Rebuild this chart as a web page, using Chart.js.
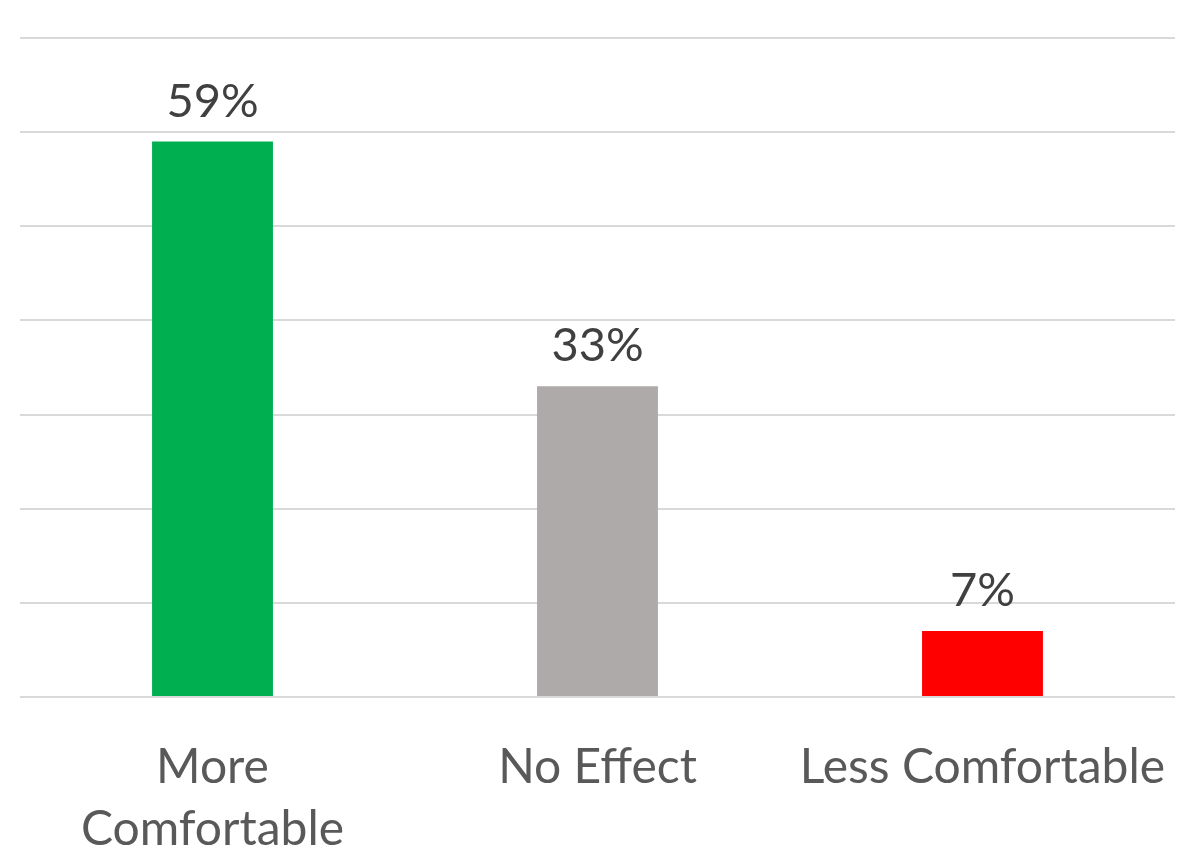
<!DOCTYPE html>
<html>
<head>
<meta charset="utf-8">
<script src="https://cdn.jsdelivr.net/npm/chart.js@4/dist/chart.umd.min.js"></script>
<style>
  body { margin: 0; background: #fff; }
  #wrap { width: 1191px; height: 851px; position: relative; }
</style>
</head>
<body>
<div id="wrap"><canvas id="chart"></canvas></div>
<script>
// --- data ---
const categories = [['More', 'Comfortable'], 'No Effect', 'Less Comfortable'];
const values = [59, 33, 7];
const barColors = ['#00b050', '#aeaaaa', '#ff0000'];
const yMax = 70;
const yStep = 10;

// value labels above bars
const barLabels = {
    id: 'barLabels',
    afterDatasetsDraw(chart) {
        const ctx = chart.ctx;
        const meta = chart.getDatasetMeta(0);
        ctx.save();
        ctx.font = '47px Lato';
        ctx.fillStyle = '#404040';
        ctx.textAlign = 'center';
        ctx.textBaseline = 'alphabetic';
        meta.data.forEach((bar, i) => {
            ctx.fillText(values[i] + '%', bar.x, bar.y - 25);
        });
        ctx.restore();
    }
};

new Chart(document.getElementById('chart'), {
    type: 'bar',
    data: {
        labels: categories,
        datasets: [{ data: values, backgroundColor: barColors, barPercentage: 0.314, categoryPercentage: 1 }]
    },
    options: {
        responsive: true,
        maintainAspectRatio: false,
        animation: false,
        layout: { padding: { left: 20, right: 16, top: 38, bottom: 0 } },
        plugins: { legend: { display: false }, tooltip: { enabled: false } },
        scales: {
            x: {
                grid: { display: false },
                border: { display: false },
                ticks: { color: '#595959', font: { family: 'Lato', size: 48, lineHeight: 1.3 }, padding: 31, maxRotation: 0 },
                afterFit(scale) {
                    scale.height = 154;
                    scale.paddingLeft = 0;
                    scale.paddingRight = 0;
                }
            },
            y: {
                min: 0, max: yMax,
                ticks: { display: false, stepSize: yStep },
                grid: { color: '#d9d9d9', lineWidth: 2, drawTicks: false },
                border: { display: false }
            }
        }
    },
    plugins: [barLabels]
});
</script>
</body>
</html>
